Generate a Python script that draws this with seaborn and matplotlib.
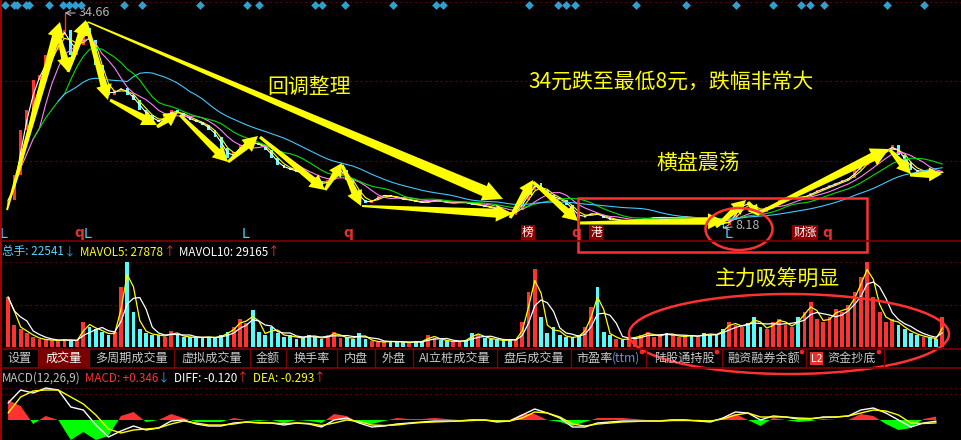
import numpy as np
import pandas as pd
import matplotlib
matplotlib.use("Agg")
import matplotlib.pyplot as plt
import seaborn as sns
from matplotlib.patches import Rectangle, Ellipse, Polygon, Circle

# ---------------- data ----------------
closes = [11.63, 14.71, 20.25, 22.71, 26.41, 27.02, 29.49, 30.10, 31.95, 32.57,
          29.49, 30.72, 32.81, 31.33, 28.26, 25.18, 24.56, 25.18, 25.42, 24.56,
          23.95, 22.71, 22.10, 21.48, 21.24, 22.10, 22.71, 22.34, 21.85, 21.48,
          21.24, 20.87, 20.25, 19.39, 18.03, 16.80, 17.54, 18.40, 18.77, 18.65,
          18.40, 17.79, 16.80, 15.94, 15.57, 15.33, 15.08, 14.71, 14.34, 13.85,
          13.48, 14.10, 15.08, 15.33, 14.10, 12.86, 11.63, 11.26, 11.63, 12.12,
          12.25, 12.00, 11.88, 11.63, 11.63, 11.38, 11.26, 11.51, 11.63, 11.38,
          11.26, 11.26, 11.38, 11.26, 11.02, 11.02, 10.77, 10.65, 10.40, 10.03,
          9.79, 10.40, 11.63, 12.86, 13.73, 12.86, 12.25, 11.88, 11.63, 11.02,
          10.15, 9.42, 9.79, 10.03, 9.79, 9.42, 9.17, 9.17, 9.05, 9.17,
          9.17, 9.29, 9.42, 9.42, 9.54, 9.42, 9.42, 9.54, 9.54, 9.42,
          9.42, 9.29, 9.17, 8.92, 8.55, 9.17, 10.40, 11.26, 11.02, 10.40,
          10.15, 10.77, 11.02, 11.63, 11.88, 12.00, 11.88, 12.12, 12.49, 12.86,
          13.11, 13.48, 13.73, 14.10, 14.34, 15.33, 15.94, 16.80, 17.17, 17.54,
          17.79, 18.40, 17.17, 16.31, 15.33, 15.08, 15.33, 15.08, 14.96, 15.08]

volumes = [37500, 16500, 13500, 10500, 7500, 6000, 5250, 5250, 4500, 6000,
           4500, 5250, 18750, 15000, 13500, 11250, 9000, 11250, 45000, 63750,
           26250, 13500, 10500, 9000, 9000, 7500, 12000, 9000, 7500, 7500,
           6750, 7500, 7500, 6750, 9000, 11250, 15000, 21000, 18000, 27750,
           11250, 9000, 15000, 10500, 7500, 9000, 6000, 7500, 9000, 7500,
           6000, 9000, 11250, 6750, 7500, 6000, 10500, 6000, 4500, 3750,
           3750, 4500, 3750, 3750, 3000, 4500, 3750, 9000, 6750, 5250,
           4500, 3750, 4500, 5250, 10500, 9000, 6750, 6000, 5250, 4500,
           6000, 5250, 18750, 41250, 58500, 22500, 10500, 15000, 9000, 7500,
           6750, 9000, 15000, 30000, 45000, 11250, 9000, 6000, 5250, 6750,
           7500, 9000, 11250, 7500, 9000, 10500, 9000, 7500, 8250, 9000,
           7500, 10500, 9000, 9750, 13500, 18750, 16500, 15000, 18000, 22500,
           15000, 13500, 18750, 21000, 16500, 15000, 22500, 26250, 33750, 21000,
           18750, 22500, 28500, 26250, 31500, 41250, 52500, 63750, 37500, 26250,
           18750, 21000, 16500, 13500, 10500, 9000, 7500, 6750, 6000, 22541]

# MACD lines read every second bar (bar index 0, 2, ..., 148)
macd_bars = list(range(0, 150, 2))
diff_vals = [1.7, 3.0, 2.7, 3.2, 3.0, 1.3, 1.0, -0.5, -1.7, -1.1,
             -0.6, -1.0, -0.8, -0.1, 0.0, -0.4, -0.6, -0.6, -0.3, -0.2,
             -0.3, -0.3, -0.5, -0.3, -0.4, -0.7, 0.0, 0.2, -0.3, -0.7,
             -0.6, -0.4, -0.3, -0.2, -0.1, -0.1, -0.1, 0.0, 0.0, -0.2,
             -0.1, 0.5, 1.1, 0.7, 0.2, -0.7, -0.7, -0.3, -0.2, -0.1,
             -0.1, -0.1, -0.1, 0.0, 0.0, -0.1, -0.2, 0.2, 0.8, 0.7,
             0.0, 0.4, 0.3, 0.1, 0.1, 0.3, 0.3, 0.4, 1.0, 1.2,
             0.7, 0.0, -0.7, -0.3, -0.12]
dea_vals = [0.7, 2.3, 2.9, 3.0, 3.0, 2.3, 1.6, 0.5, -0.9, -1.3,
            -1.0, -0.9, -0.8, -0.4, -0.1, -0.3, -0.5, -0.5, -0.4, -0.2,
            -0.25, -0.3, -0.35, -0.3, -0.35, -0.55, -0.3, 0.0, -0.15, -0.5,
            -0.55, -0.5, -0.35, -0.25, -0.2, -0.15, -0.1, -0.05, 0.0, -0.1,
            -0.1, 0.2, 0.8, 0.7, 0.3, -0.4, -0.6, -0.4, -0.3, -0.2,
            -0.15, -0.1, -0.1, -0.05, -0.05, -0.05, -0.1, 0.1, 0.5, 0.7,
            0.3, 0.3, 0.3, 0.2, 0.15, 0.25, 0.3, 0.4, 0.7, 1.0,
            0.9, 0.5, -0.3, -0.35, -0.293]

high_idx, high_price = 9, 34.66
low_idx, low_price = 114, 8.18

event_bars = [-0.5, 0.9, 1.4, 2.9, 3.3, 6.5, 8.8, 9.7, 10.7, 11.6, 18.5, 21.4,
              30.6, 38.1, 40.0, 48.9, 50.1, 53.7, 61.4, 68.3, 69.4, 83.1, 87.7,
              89.0, 90.4, 100.1, 108.1, 116.1, 122.0, 126.5, 127.9, 130.1,
              140.2, 146.1]
signal_L = [-0.8, 12.7, 37.8, 114.9]
signal_q = [11.4, 54.2, 90.7, 130.6]
news_tags = [(82.9, "榜"), (93.8, "港"), (127.1, "财涨")]

tab_labels = ["设置", "成交量", "多周期成交量", "虚拟成交量", "金额", "换手率", "内盘",
              "外盘", "AI立桩成交量", "盘后成交量", "市盈率(ttm)", "陆股通持股",
              "融资融券余额", "L2 资金抄底"]

# ---------------- style ----------------
sns.set_theme(style="dark", rc={"axes.facecolor": "black", "figure.facecolor": "black"})
plt.rcParams["font.family"] = ["Noto Sans CJK SC", "DejaVu Sans"]
plt.rcParams["axes.unicode_minus"] = False

RED, CYAN = "#ff3232", "#54fcfc"
GRID = "#8c0000"
W, H = 962, 440
PX0, DPX = 8.1, 6.27          # pixel of bar 0 centre and bar spacing
XLIM = ((0 - PX0) / DPX, (W - PX0) / DPX)

fig = plt.figure(figsize=(W / 100, H / 100), dpi=100)

N = len(closes)
df = pd.DataFrame({"bar": np.arange(N), "close": closes, "volume": volumes})
df["open"] = df["close"].shift(1)
df.loc[0, "open"] = df.loc[0, "close"] - 0.6
df["up"] = df["close"] >= df["open"]
colors = np.where(df["up"], RED, CYAN)

def clean(a):
    a.set_xlim(*XLIM)
    a.set_xticks([]); a.set_yticks([])
    a.set_xlabel(""); a.set_ylabel("")
    for s in a.spines.values():
        s.set_visible(False)

# ---------------- main price panel ----------------
ax = fig.add_axes([0, 1 - 241 / H, 1, 241 / H])
ax.set_facecolor("black")
ax.set_ylim(6.58, 36.26)
for yv in (26.3, 16.4, 36.0):
    ax.axhline(yv, color=GRID, lw=0.9, ls=(0, (1, 3)), zorder=0)

body_h = (df["close"] - df["open"]).abs().clip(lower=0.12)
body_b = np.minimum(df["close"], df["open"])
ax.bar(df["bar"], body_h, bottom=body_b, width=0.45, color=colors, linewidth=0, zorder=3)
ax.vlines(high_idx, closes[high_idx], high_price, color=RED, lw=1, zorder=3)
ax.vlines(low_idx, low_price, closes[low_idx], color=CYAN, lw=1, zorder=3)

ma_styles = [(2, 1, "#ffffff"), (3, 2, "#ffff00"), (6, 3, "#ff80ff"),
             (10, 5, "#00e000"), (20, 9, "#40c8ff")]
for win, mp, col in ma_styles:
    ma = df["close"].rolling(win, min_periods=mp).mean()
    sns.lineplot(x=df["bar"], y=ma, ax=ax, color=col, lw=0.8, zorder=4)

ax.annotate(f"{high_price:.2f}", xy=(high_idx, high_price), xytext=(10, 0),
            textcoords="offset points", color="#b4b4b4", fontsize=9, va="center",
            ha="left", arrowprops=dict(arrowstyle="->", color="#b4b4b4", lw=0.8,
                                       shrinkA=0, shrinkB=0), zorder=6)
ax.annotate(f"{low_price:.2f}", xy=(low_idx, low_price), xytext=(9, 2),
            textcoords="offset points", color="#b4b4b4", fontsize=9, va="center",
            ha="left", arrowprops=dict(arrowstyle="->", color="#b4b4b4", lw=0.8,
                                       shrinkA=0, shrinkB=0), zorder=6)

xt = ax.get_xaxis_transform()
ax.scatter(event_bars, [0.979] * len(event_bars), transform=xt, marker="D", s=20,
           color="#2f9fd0", linewidths=0, zorder=6)
for b in signal_L:
    ax.text(b, 0.03, "L", transform=xt, color="#40d8ff", fontsize=10,
            ha="center", va="center", family="DejaVu Sans", zorder=6)
for b in signal_q:
    ax.text(b, 0.035, "q", transform=xt, color="#e03030", fontsize=10,
            fontweight="bold", ha="center", va="center", family="DejaVu Sans", zorder=6)
for b, t in news_tags:
    ax.text(b, 0.035, t, transform=xt, color="white", fontsize=8.5, ha="center",
            va="center", zorder=6,
            bbox=dict(boxstyle="square,pad=0.08", fc="#8b0000", ec="none"))
clean(ax)

# ---------------- volume panel ----------------
axv = fig.add_axes([0, 1 - 349 / H, 1, 108 / H])
axv.set_facecolor("black")
axv.set_ylim(-1500, 79500)
for yv in (63750, 31500):
    axv.axhline(yv, color=GRID, lw=0.9, ls=(0, (1, 3)), zorder=0)
axv.bar(df["bar"], df["volume"], width=0.6, color=colors, linewidth=0, zorder=3)
sns.lineplot(x=df["bar"], y=df["volume"].rolling(2, min_periods=1).mean(), ax=axv,
             color="#ffff00", lw=0.9, zorder=4)
sns.lineplot(x=df["bar"], y=df["volume"].rolling(4, min_periods=1).mean(), ax=axv,
             color="#ffffff", lw=0.9, zorder=4)
clean(axv)

# ---------------- MACD panel ----------------
axm = fig.add_axes([0, 0, 1, 72 / H])
axm.set_facecolor("black")
mdf = pd.DataFrame({"bar": macd_bars, "diff": diff_vals, "dea": dea_vals})
mdf["macd"] = 2 * (mdf["diff"] - mdf["dea"])
axm.set_ylim(-2.0, 5.2)
for yv in (3.2, 2.6):
    axm.axhline(yv, color=GRID, lw=0.9, ls=(0, (1, 3)), zorder=0)
axm.fill_between(mdf["bar"], 0, mdf["macd"], where=mdf["macd"] >= 0, interpolate=True,
                 color=RED, linewidth=0, zorder=3)
axm.fill_between(mdf["bar"], 0, mdf["macd"], where=mdf["macd"] < 0, interpolate=True,
                 color="#00ff00", linewidth=0, zorder=3)
sns.lineplot(data=mdf, x="bar", y="diff", ax=axm, color="#ffffff", lw=1, zorder=4)
sns.lineplot(data=mdf, x="bar", y="dea", ax=axm, color="#ffff00", lw=1, zorder=4)
clean(axm)

# ---------------- overlay (pixel coordinates) ----------------
ov = fig.add_axes([0, 0, 1, 1], zorder=10)
ov.set_xlim(0, W); ov.set_ylim(H, 0)
ov.patch.set_alpha(0)
ov.axis("off")

ov.plot([1, 1], [0, H], color="#c00000", lw=1.2)
ov.plot([0, W], [241, 241], color="#800000", lw=1.2)
ov.plot([0, W], [349, 349], color="#800000", lw=1.2)
ov.plot([0, W], [368, 368], color="#800000", lw=1.2)

# tab bar
tab_edges = [2, 38, 89, 174, 250, 286, 337, 375, 413, 497, 571, 646, 722, 806, 884]
ov.add_patch(Rectangle((38, 349.5), 51, 18, fc="#7a0000", ec="none"))
for e in tab_edges[1:]:
    ov.plot([e, e], [349, 368], color="#800000", lw=1)
for k, lab in enumerate(tab_labels):
    cx = (tab_edges[k] + tab_edges[k + 1]) / 2
    colr = "white" if lab == "成交量" else "#c8c8c8"
    if lab.startswith("L2"):
        ov.add_patch(Rectangle((810, 352), 13, 13, fc="#e83030", ec="none"))
        ov.text(816.5, 358.5, "L2", color="white", fontsize=7.5, ha="center", va="center")
        ov.text(852, 358.5, lab[3:], color=colr, fontsize=8.7, ha="center", va="center")
    elif "(ttm)" in lab:
        ov.text(595, 358.5, lab[:3], color=colr, fontsize=8.7, ha="center", va="center")
        ov.text(626, 358.5, "(ttm)", color="#6f8fd8", fontsize=8.7, ha="center", va="center")
    else:
        ov.text(cx, 358.5, lab, color=colr, fontsize=8.7, ha="center", va="center")
for dx in (642, 717, 802, 879):
    ov.add_patch(Circle((dx, 352), 1.6, color="#ff2020"))

# headers (placed one after another)
renderer = fig.canvas.get_renderer()
def header(y, parts, x=2.0, fs=8.4):
    for t, c, gap in parts:
        tx = ov.text(x, y, t, color=c, fontsize=fs, ha="left", va="center")
        x += tx.get_window_extent(renderer).width + gap

header(252, [("总手: 22541", "#5ad2ff", 0), ("↓", "#30a0e0", 5),
             ("MAVOL5: 27878", "#ffff00", 0), ("↑", RED, 4),
             ("MAVOL10: 29165", "#ffffff", 0), ("↑", RED, 0)])
header(378, [("MACD(12,26,9)", "#c0c0c0", 4), ("MACD: +0.346", RED, 0),
             ("↓", "#30a0e0", 4), ("DIFF: -0.120", "#ffffff", 0),
             ("↑", RED, 4), ("DEA: -0.293", "#ffff00", 0), ("↑", RED, 0)])

# yellow hand-drawn arrows
def arrow(p0, p1, w0, w1, hw, hl, color="#ffff00"):
    p0 = np.array(p0, float); p1 = np.array(p1, float)
    d = p1 - p0; L = np.hypot(*d); u = d / L; n = np.array([-u[1], u[0]])
    base = p1 - u * hl
    pts = [p0 + n * w0 / 2, base + n * w1 / 2, base + n * hw / 2, p1,
           base - n * hw / 2, base - n * w1 / 2, p0 - n * w0 / 2]
    ov.add_patch(Polygon(pts, closed=True, fc=color, ec="none"))

arrows = [((7, 210), (60, 22), 2, 8, 17, 15),
          ((58, 32), (68, 72), 3, 7, 15, 14),
          ((68, 72), (86, 20), 3, 7, 16, 15),
          ((86, 22), (108, 100), 3, 7, 16, 15),
          ((110, 100), (157, 125), 3, 7, 16, 15),
          ((157, 127), (178, 112), 3, 6, 15, 14),
          ((180, 115), (228, 162), 3, 7, 16, 15),
          ((228, 162), (258, 136), 3, 7, 16, 15),
          ((260, 137), (325, 190), 3, 7, 16, 15),
          ((325, 190), (342, 163), 3, 6, 14, 13),
          ((342, 165), (361, 206), 3, 7, 16, 15),
          ((362, 206), (512, 214), 2, 9, 17, 16),
          ((88, 22), (503, 199), 1.5, 11, 20, 20),
          ((510, 218), (533, 180), 3, 7, 15, 14),
          ((533, 182), (578, 221), 3, 7, 16, 15),
          ((580, 223), (724, 221), 3, 7, 16, 16),
          ((716, 227), (746, 200), 3, 7, 15, 14),
          ((748, 202), (759, 216), 3, 5, 12, 11),
          ((757, 214), (889, 149), 3, 9, 19, 18),
          ((890, 150), (911, 174), 3, 7, 15, 14),
          ((910, 175), (942, 174), 3, 7, 14, 13)]
for a in arrows:
    arrow(*a)

# red marks
ov.add_patch(Rectangle((578, 198), 289, 54, fill=False, ec="#ff3030", lw=1.8))
ov.add_patch(Ellipse((739, 229), 67, 42, fill=False, ec="#ff3030", lw=1.8))
ov.add_patch(Ellipse((789, 334), 320, 80, fill=False, ec="#ff3030", lw=1.8))

# captions
for cx, cy, t in [(309, 87, "回调整理"), (671, 82, "34元跌至最低8元，跌幅非常大"),
                  (698, 163, "横盘震荡"), (777, 280, "主力吸筹明显")]:
    ov.text(cx, cy, t, color="#ffff00", fontsize=15, ha="center", va="center")

fig.savefig("out.png", dpi=100, facecolor="black")
